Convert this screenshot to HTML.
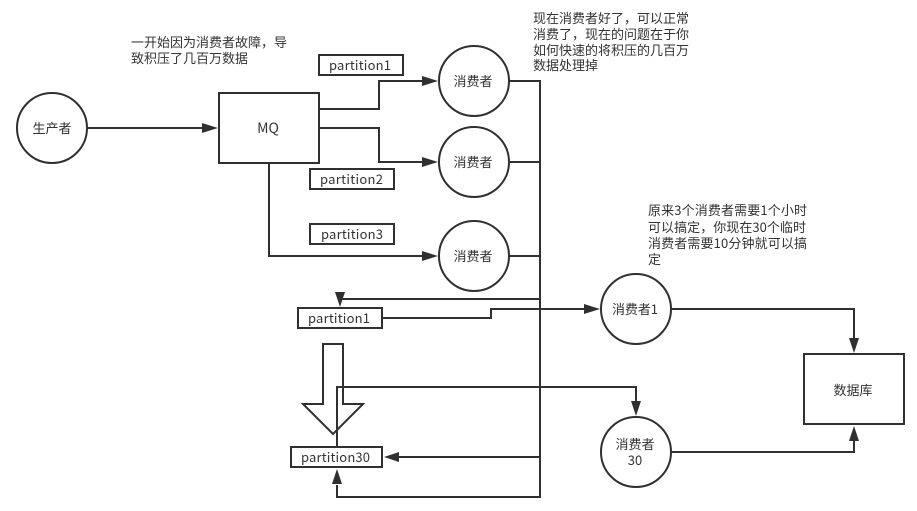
<!DOCTYPE html>
<html><head><meta charset="utf-8">
<style>
html,body{margin:0;padding:0;background:#fff;}
svg{display:block;}
text{font-family:"Noto Sans CJK SC","Liberation Sans",sans-serif;font-size:13px;fill:#333;}
.c{text-anchor:middle;}
.s{fill:none;stroke:#303030;stroke-width:2;}
.b{fill:#fff;stroke:#303030;stroke-width:2;}
.a{fill:#303030;stroke:none;}
</style></head><body>
<svg width="917" height="511" viewBox="0 0 917 511" xmlns="http://www.w3.org/2000/svg">
<rect width="917" height="511" fill="#fff"/>
<path class="s" d="M87 128H204"/>
<path class="s" d="M319 109H379V81H424"/>
<path class="s" d="M319 128H379V162H424"/>
<path class="s" d="M269 163V256H424"/>
<path class="s" d="M509 81H540V497H337V485"/>
<path class="s" d="M509 162H540"/>
<path class="s" d="M509 256H540"/>
<path class="s" d="M540 299H340V294"/>
<path class="s" d="M540 457H398"/>
<path class="s" d="M382 318H491V309H586"/>
<path class="s" d="M337 447V387H636V402"/>
<path class="s" d="M671 309H854V338"/>
<path class="s" d="M671 452H854V438"/>
<path class="a" d="M202 123L218 128L202 133Z"/>
<path class="a" d="M422 76L438 81L422 86Z"/>
<path class="a" d="M422 157L438 162L422 167Z"/>
<path class="a" d="M422 251L438 256L422 261Z"/>
<path class="a" d="M584 304L600 309L584 314Z"/>
<path class="a" d="M335 292L345 292L340 307Z"/>
<path class="a" d="M399 452L384 457L399 462Z"/>
<path class="a" d="M332 484L337 469L342 484Z"/>
<path class="a" d="M631 401L641 401L636 416Z"/>
<path class="a" d="M849 338L859 338L854 353Z"/>
<path class="a" d="M849 441L854 426L859 441Z"/>
<path class="s" d="M323 344H343V404H363L333 434L303 404H323Z"/>
<path class="s" d="M337 447V387"/>
<circle class="b" cx="52" cy="128" r="35"/>
<circle class="b" cx="474" cy="81" r="35"/>
<circle class="b" cx="474" cy="162" r="35"/>
<circle class="b" cx="474" cy="256" r="35"/>
<circle class="b" cx="636" cy="309" r="35"/>
<circle class="b" cx="636" cy="452" r="35"/>
<rect class="b" x="219" y="93" width="100" height="70"/>
<rect class="b" x="804" y="354" width="100" height="70"/>
<rect class="b" x="319" y="55" width="84" height="20"/>
<rect class="b" x="310" y="169" width="84" height="20"/>
<rect class="b" x="310" y="224" width="84" height="20"/>
<rect class="b" x="298" y="308" width="84" height="20"/>
<rect class="b" x="291" y="447" width="91" height="20"/>
<text class="c" x="52" y="133">生产者</text>
<text class="c" x="268" y="133" style="font-size:14px">MQ</text>
<text class="c" x="473" y="86">消费者</text>
<text class="c" x="473" y="167">消费者</text>
<text class="c" x="473" y="261">消费者</text>
<text class="c" x="635" y="314" textLength="46">消费者1</text>
<text class="c" x="635" y="449">消费者</text>
<text class="c" x="635" y="465">30</text>
<text class="c" x="853" y="395">数据库</text>
<text x="329" y="70" textLength="62">partition1</text>
<text x="320" y="184" textLength="63">partition2</text>
<text x="321" y="239" textLength="62">partition3</text>
<text x="308" y="323" textLength="62">partition1</text>
<text x="301" y="462" textLength="69">partition30</text>
<text x="131" y="47">一开始因为消费者故障，导</text>
<text x="131" y="63">致积压了几百万数据</text>
<text x="533" y="23">现在消费者好了，可以正常</text>
<text x="533" y="39">消费了，现在的问题在于你</text>
<text x="533" y="55">如何快速的将积压的几百万</text>
<text x="533" y="70">数据处理掉</text>
<text x="648" y="215" textLength="159">原来3个消费者需要1个小时</text>
<text x="648" y="232" textLength="158">可以搞定，你现在30个临时</text>
<text x="648" y="248" textLength="159">消费者需要10分钟就可以搞</text>
<text x="648" y="264">定</text>
</svg>
</body></html>
